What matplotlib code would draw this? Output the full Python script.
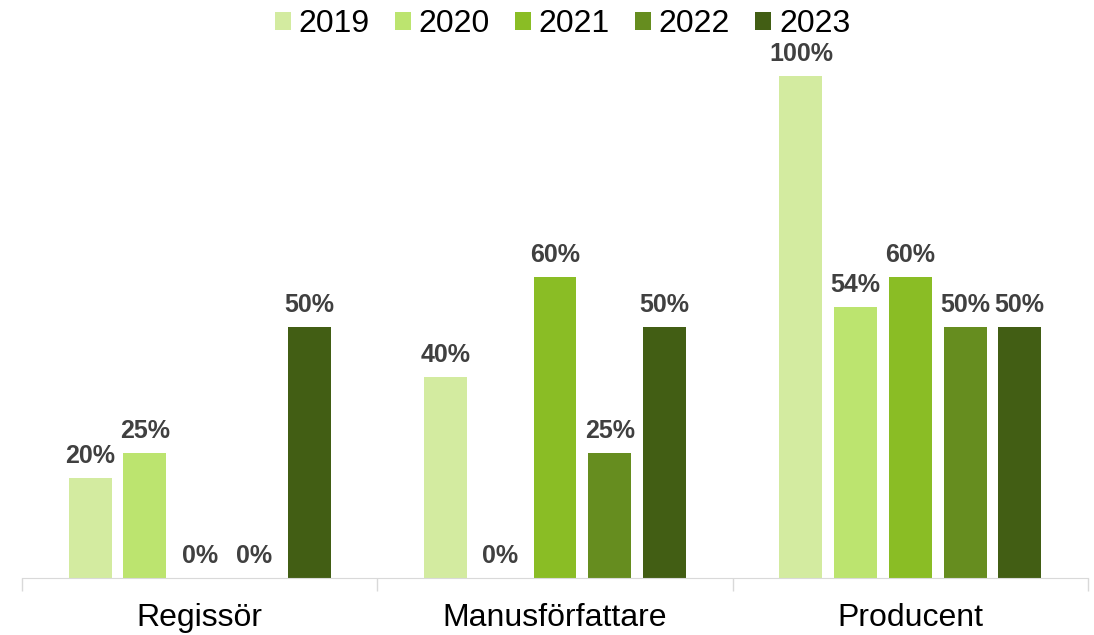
import numpy as np
import matplotlib.pyplot as plt

plt.rcParams['font.family'] = ['Liberation Sans', 'DejaVu Sans']

categories = ['Regissör', 'Manusförfattare', 'Producent']
years = ['2019', '2020', '2021', '2022', '2023']
values = {
    '2019': [20, 40, 100],
    '2020': [25, 0, 54],
    '2021': [0, 60, 60],
    '2022': [0, 25, 50],
    '2023': [50, 50, 50],
}
colors = ['#d3eba0', '#bce46f', '#8abd25', '#668d1f', '#425e14']

fig = plt.figure(figsize=(10.94, 6.35), dpi=100)
ax = fig.add_axes((22 / 1094, 57 / 635, 1066 / 1094, 521 / 635))

x = np.arange(len(categories))
pitch = 0.154
width = 0.121
for i, (yr, col) in enumerate(zip(years, colors)):
    pos = x + (i - 2) * pitch
    bars = ax.bar(pos, values[yr], width, color=col, label=yr, zorder=2)
    for b, v in zip(bars, values[yr]):
        ax.annotate(f'{v}%', (b.get_x() + b.get_width() / 2, v),
                    xytext=(0, 7), textcoords='offset points',
                    ha='center', va='bottom', fontsize=18,
                    fontweight='bold', color='#404040')

ax.set_xlim(-0.5, 2.5)
ax.set_ylim(0, 100 * 521 / 502)
ax.set_yticks([])
for s in ['left', 'right', 'top']:
    ax.spines[s].set_visible(False)
ax.spines['bottom'].set_color('#d9d9d9')

ax.set_xticks(x)
ax.set_xticklabels(categories, fontsize=23)
ax.tick_params(axis='x', length=0, pad=18)
ax.set_xticks([-0.5, 0.5, 1.5, 2.5], minor=True)
ax.tick_params(axis='x', which='minor', length=9, color='#d9d9d9', width=1)

ax.legend(loc='upper center', bbox_to_anchor=(0.507, 1.135), ncol=5,
          frameon=False, fontsize=23, handlelength=0.5, handleheight=0.5,
          handletextpad=0.25, columnspacing=0.78, borderpad=0.2)

fig.savefig('out.png')
